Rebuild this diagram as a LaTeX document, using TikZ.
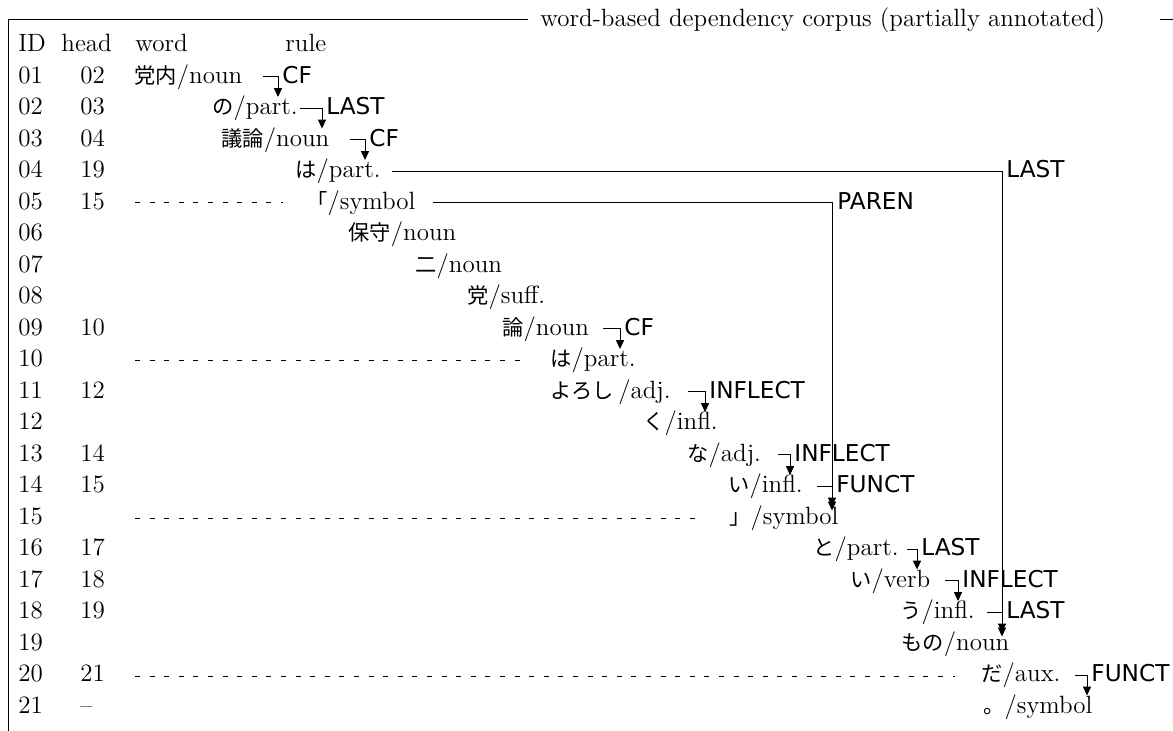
\documentclass[tikz,border=0pt]{standalone}
\usepackage{fontspec}
\newfontfamily\jpf[Scale=0.85]{Noto Sans CJK JP}
\newfontfamily\labf{DejaVu Sans}
\usetikzlibrary{arrows.meta}
\newcommand\J[1]{{\jpf #1}}
\tikzset{
  txt/.style={anchor=base west, inner sep=0pt, font=\fontsize{12.5}{14}\selectfont},
  lbl/.style={anchor=base west, inner sep=0pt, font=\labf\fontsize{11.6}{13}\selectfont},
  conn/.style={line width=0.45pt, -{Triangle[length=4.4pt,width=4pt]}},
  frameline/.style={line width=0.5pt},
  guide/.style={line width=0.4pt, dash pattern=on 2.5pt off 4.8pt},
}
% hook connector: name, start x, corner x, row baseline, label
\newcommand\hookarrow[5]{%
  \coordinate (#1s) at (#2,#4-7);
  \coordinate (#1c) at (#3,#4-7);
  \coordinate (#1t) at (#3,#4+13.5);
  \draw[conn] (#1s) -- (#1c) -- (#1t);
  \node[lbl] (#1l) at (#3+4,#4) {#5};
}
\begin{document}
\begin{tikzpicture}[x=0.5pt,y=-0.5pt]
\useasboundingbox (0,0) rectangle (1173,731);
% frame
\draw[frameline] (8,740) -- (8,20) -- (528,20);
\draw[frameline] (1160,20) -- (1180,20);
\node[txt] (title) at (540,27) {word-based dependency corpus (partially annotated)};
% headers
\node[txt] (hID) at (18,52) {ID};
\node[txt] (hhead) at (61,52) {head};
\node[txt] (hword) at (135,52) {word};
\node[txt] (hrule) at (285,52) {rule};
% ID and head columns
\foreach \i/\h [count=\k] in {01/02,02/03,03/04,04/19,05/15,06/,07/,08/,09/10,10/,11/12,12/,13/14,14/15,15/,16/17,17/18,18/19,19/,20/21,21/--}{
  \node[txt] (id\i) at (18,52+31.5*\k) {\i};
  \node[txt] (hd\i) at (80,52+31.5*\k) {\h};
}
% words
\node[txt] (w01) at (134,83.5) {\J{党内}/noun};
\node[txt] (w02) at (212,115) {\J{の}/part.};
\node[txt] (w03) at (221,146.5) {\J{議論}/noun};
\node[txt] (w04) at (295,178) {\J{は}/part.};
\node[txt] (w05) at (306,209.5) {\J{「}/symbol};
\node[txt] (w06) at (348,241) {\J{保守}/noun};
\node[txt] (w07) at (415,272.5) {\J{二}/noun};
\node[txt] (w08) at (467,304) {\J{党}/suff.};
\node[txt] (w09) at (502,335.5) {\J{論}/noun};
\node[txt] (w10) at (550,367) {\J{は}/part.};
\node[txt] (w11) at (550,398.5) {\J{よろし}\,/adj.};
\node[txt] (w12) at (643,430) {\J{く}/infl.};
\node[txt] (w13) at (687,461.5) {\J{な}/adj.};
\node[txt] (w14) at (728,493) {\J{い}/infl.};
\node[txt] (w15) at (729,524.5) {\J{」}/symbol};
\node[txt] (w16) at (813,556) {\J{と}/part.};
\node[txt] (w17) at (850,587.5) {\J{い}/verb};
\node[txt] (w18) at (900,619) {\J{う}/infl.};
\node[txt] (w19) at (901,650.5) {\J{もの}/noun};
\node[txt] (w20) at (981,682) {\J{だ}/aux.};
\node[txt] (w21) at (983,713.5) {\J{。}/symbol};
% dashed guides
\coordinate (g05) at (283,202.5);
\coordinate (g10) at (522,360);
\coordinate (g15) at (695,518.5);
\coordinate (g20) at (955,676);
\draw[guide] (135,202.5) -- (g05);
\draw[guide] (135,360) -- (g10);
\draw[guide] (135,518.5) -- (g15);
\draw[guide] (135,676) -- (g20);
% short hook connectors
\hookarrow{a01}{263}{278}{83.5}{CF}
\hookarrow{a02}{300}{322}{115}{LAST}
\hookarrow{a03}{350}{365}{146.5}{CF}
\hookarrow{a09}{603}{620}{335.5}{CF}
\hookarrow{a11}{688}{705}{398.5}{INFLECT}
\hookarrow{a13}{778}{790}{461.5}{INFLECT}
\hookarrow{a14}{817}{832}{493}{FUNCT}
\hookarrow{a16}{907}{917}{556}{LAST}
\hookarrow{a17}{945}{958}{587.5}{INFLECT}
\hookarrow{a18}{987}{1002}{619}{LAST}
\hookarrow{a20}{1075}{1087}{682}{FUNCT}
% long connectors
\coordinate (a04s) at (392,171);
\coordinate (a04c) at (1002,171);
\coordinate (a04t) at (1002,636.5);
\draw[conn] (a04s) -- (a04c) -- (a04t);
\node[lbl] (a04l) at (1006,178) {LAST};
\coordinate (a05s) at (433,202.5);
\coordinate (a05c) at (832,202.5);
\coordinate (a05t) at (832,510.5);
\draw[conn] (a05s) -- (a05c) -- (a05t);
\node[lbl] (a05l) at (837,209.5) {PAREN};
\end{tikzpicture}
\end{document}
